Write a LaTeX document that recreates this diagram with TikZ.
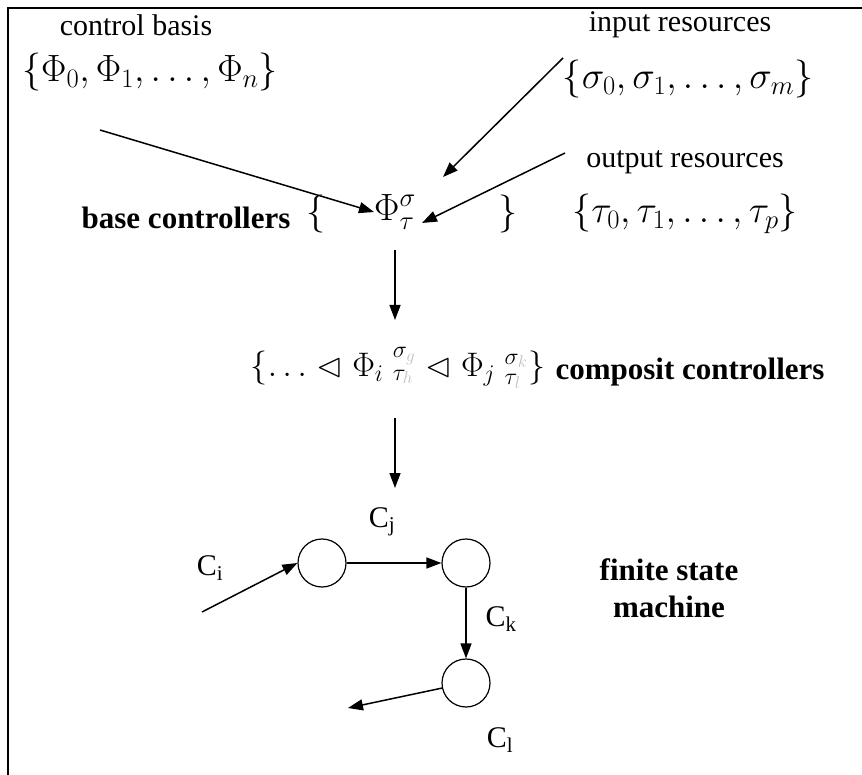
\RequirePackage{fix-cm}
\documentclass[tikz,border=0pt]{standalone}
\usepackage{amssymb}
\usepackage{fontspec}
\setmainfont{Liberation Serif}
\usetikzlibrary{arrows.meta}
\begin{document}
\begin{tikzpicture}[x=1pt,y=-1pt,
  lbl/.style={font=\fontsize{30}{32}\selectfont, inner sep=0pt},
  blbl/.style={font=\fontsize{31}{37}\selectfont\bfseries, inner sep=0pt, align=center},
  mset/.style={font=\fontsize{38}{40}\selectfont, inner sep=0pt},
  mcomp/.style={font=\fontsize{34}{36}\selectfont, inner sep=0pt},
  clab/.style={font=\fontsize{30}{32}\selectfont, inner sep=0pt},
  st/.style={circle, draw, line width=1.2pt, minimum size=48pt, inner sep=0pt},
  arr/.style={line width=1.5pt, -{Triangle[length=15pt,width=11pt]}},
  ]
\useasboundingbox (0,0) rectangle (862,775);
\draw[line width=2.2pt] (8,775) -- (8,8) -- (862,8);

% top labels and sets
\node[lbl] (cb) at (136,25) {control basis};
\node[mset] (phiset) at (150,72) {$\{\Phi_0 , \Phi_1 , \ldots , \Phi_n\}$};
\node[lbl] (ir) at (680,25) {input resources};
\node[mset] (sigset) at (688,79) {$\{\sigma_0 , \sigma_1 , \ldots , \sigma_m\}$};
\node[lbl] (or) at (685,162) {output resources};
\node[mset] (tauset) at (685,214) {$\{\tau_0 , \tau_1 , \ldots , \tau_p\}$};

% base controllers
\node[blbl] (bc) at (186,218) {base controllers};
\node[mset] (lb) at (316,214) {$\{$};
\node[mset] (rb) at (508,214) {$\}$};
\node[mset, anchor=west] (phi) at (374,212) {$\Phi^{\sigma}_{\tau}$};

\coordinate (cbTail) at (100,130);
\coordinate (inTail) at (563,58);
\coordinate (inTip) at (443,177);
\coordinate (outTail) at (565,153);
\coordinate (outTip) at (422,223);
\draw[arr] (cbTail) -- (phi.west);
\draw[arr] (inTail) -- (inTip);
\draw[arr] (outTail) -- (outTip);

% composite controllers
\node[mcomp] (comp) at (398,368) {$\{\ldots\vartriangleleft\Phi_{i}\;{}^{\sigma_{\color{gray!50}g}}_{\tau_{\color{gray!50}h}}\vartriangleleft\Phi_{j}\;{}^{\sigma_{\color{gray!50}k}}_{\tau_{\color{gray!50}l}}\}$};
\node[blbl] (cc) at (690,372) {composit controllers};

\coordinate (a1s) at (395,250);
\coordinate (a1e) at (395,320);
\coordinate (a2s) at (395,418);
\coordinate (a2e) at (395,488);
\draw[arr] (a1s) -- (a1e);
\draw[arr] (a2s) -- (a2e);

% finite state machine
\node[st] (c1) at (322,563) {};
\node[st] (c2) at (466,563) {};
\node[st] (c3) at (466,683) {};
\node[clab] (cj) at (382,522) {C\textsubscript{j}};
\node[clab] (ci) at (210,568) {C\textsubscript{i}};
\node[clab] (ck) at (501,619) {C\textsubscript{k}};
\node[clab] (cl) at (500,740) {C\textsubscript{l}};
\node[blbl] (fsm) at (669,588) {finite state\\machine};

\coordinate (inC) at (202,612);
\coordinate (outC) at (348,708);
\draw[arr] (inC) -- (c1.west);
\draw[arr] (c1) -- (c2);
\draw[arr] (c2) -- (c3);
\draw[arr] (c3) -- (outC);
\end{tikzpicture}
\end{document}
